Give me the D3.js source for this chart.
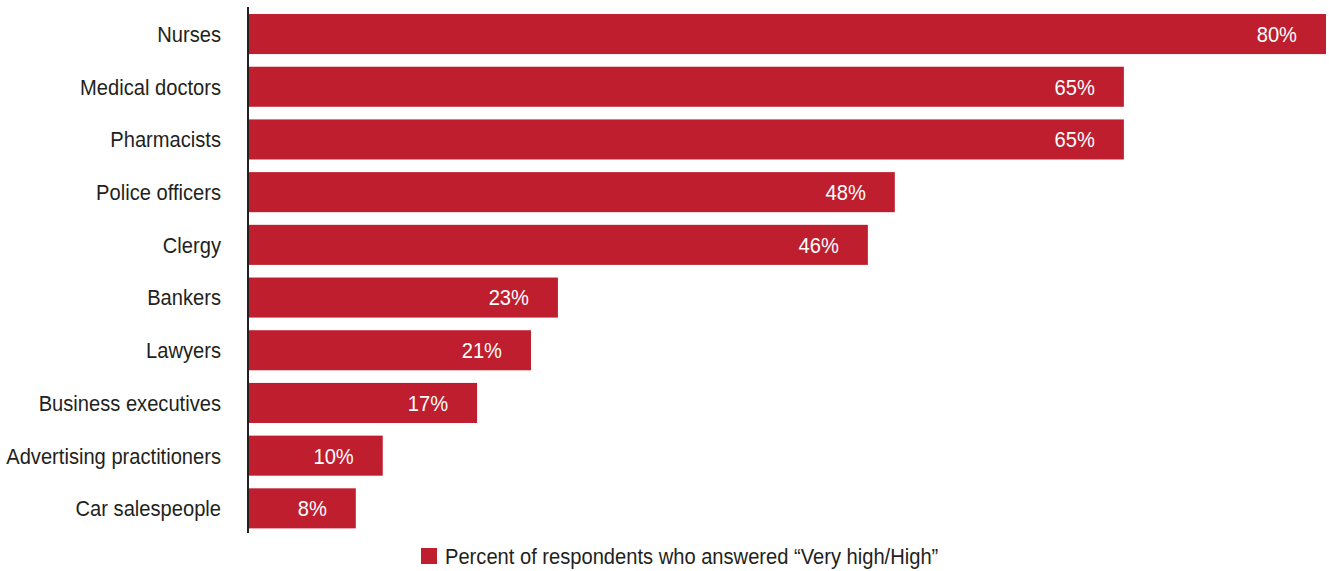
<!DOCTYPE html>
<html>
<head>
<meta charset="utf-8">
<script src="https://cdn.jsdelivr.net/npm/d3@7"></script>
<style>
  html, body { margin: 0; padding: 0; background: #fff; }
  svg { display: block; }
  text { font-family: "Liberation Sans", Arial, Helvetica, sans-serif; }
</style>
</head>
<body>
<svg id="chart" width="1329" height="571"></svg>
<script>
const categories = ["Nurses", "Medical doctors", "Pharmacists", "Police officers", "Clergy",
  "Bankers", "Lawyers", "Business executives", "Advertising practitioners", "Car salespeople"];
const values = [80, 65, 65, 48, 46, 23, 21, 17, 10, 8];
const seriesName = "Percent of respondents who answered \u201cVery high/High\u201d";

const svg = d3.select("#chart");
const barColor = "#BE1E2D";
const textColor = "#231F20";
const x0 = 248;
const narrow = 0.915;   // horizontal condensing to mimic a narrow typeface
const fs = 22;

const x = d3.scaleLinear().domain([0, 80]).range([x0, 1326]);
const y = d3.scaleBand().domain(categories).range([7.7, 534.7]).paddingInner(0.24).paddingOuter(0.12);

svg.selectAll("rect.bar").data(values).join("rect")
  .attr("class", "bar")
  .attr("x", x(0))
  .attr("y", (d, i) => y(categories[i]))
  .attr("width", d => x(d) - x(0))
  .attr("height", y.bandwidth())
  .attr("fill", barColor);

// value labels
svg.selectAll("g.val").data(values).join("g")
  .attr("class", "val")
  .attr("transform", (d, i) => `translate(${x(d) - 29},${y(categories[i]) + y.bandwidth() / 2}) scale(${narrow},1)`)
  .append("text")
  .attr("dy", "0.36em")
  .attr("text-anchor", "end")
  .attr("fill", "#fff")
  .attr("font-size", fs)
  .text(d => d + "%");

// category labels (axis)
svg.selectAll("g.cat").data(categories).join("g")
  .attr("class", "cat")
  .attr("transform", d => `translate(${x0 - 27},${y(d) + y.bandwidth() / 2}) scale(${narrow},1)`)
  .append("text")
  .attr("dy", "0.36em")
  .attr("text-anchor", "end")
  .attr("fill", textColor)
  .attr("font-size", fs)
  .text(d => d);

svg.append("line")
  .attr("x1", x0).attr("x2", x0)
  .attr("y1", 7).attr("y2", 533)
  .attr("stroke", "#231F20")
  .attr("stroke-width", 2);

const lg = svg.append("g");
lg.append("rect").attr("x", 421).attr("y", 548).attr("width", 16).attr("height", 16).attr("fill", barColor);
lg.append("g").attr("transform", `translate(445,556) scale(${narrow},1)`)
  .append("text").attr("dy", "0.36em")
  .attr("fill", textColor).attr("font-size", fs).text(seriesName);
</script>
</body>
</html>
